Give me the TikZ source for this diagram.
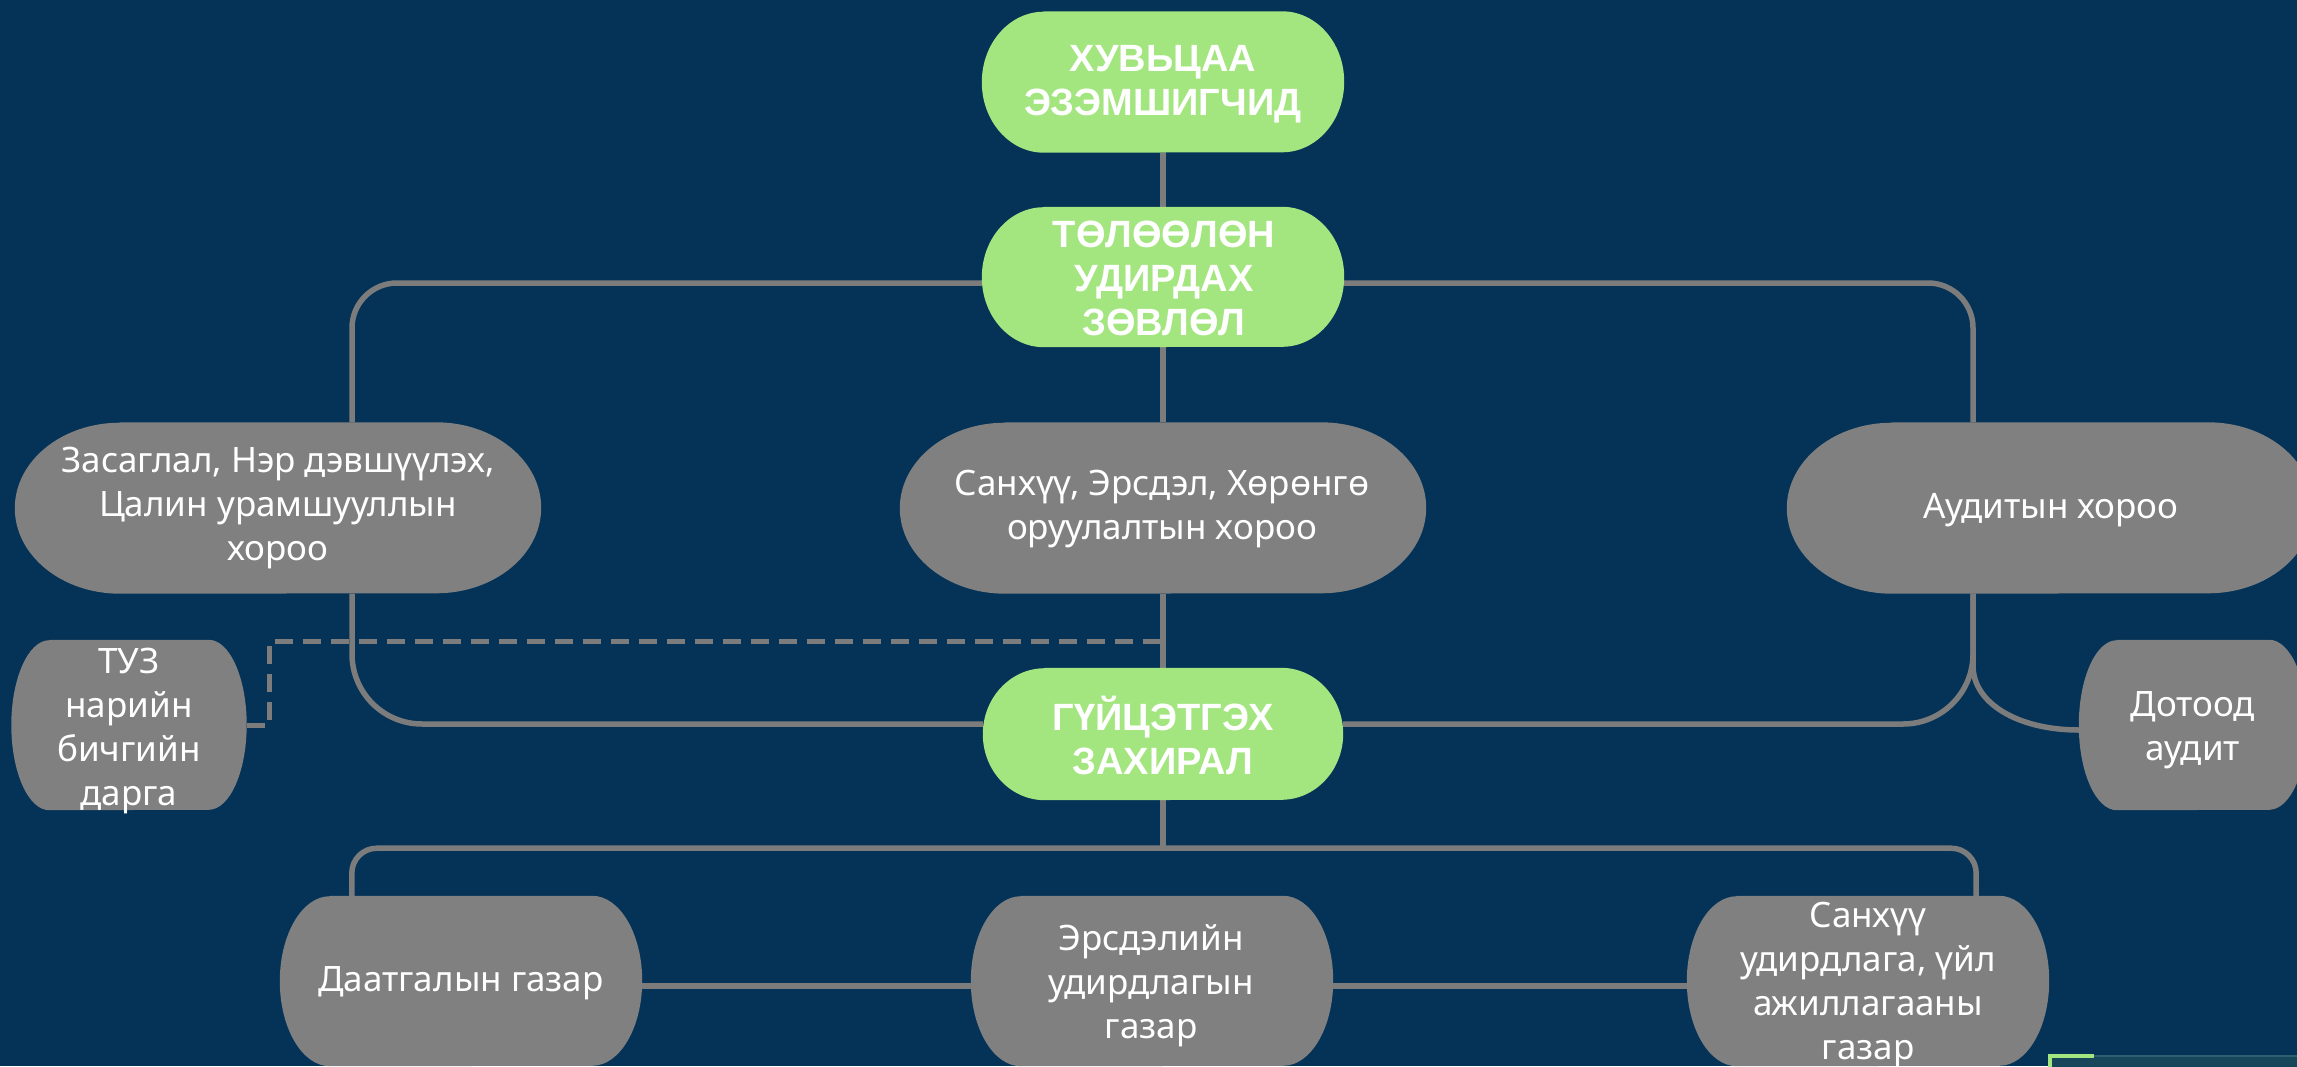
\documentclass[tikz,border=0pt]{standalone}
\usepackage{fontspec}
\setmainfont{Noto Sans}
\newfontfamily\boldfam{Liberation Sans}
\usetikzlibrary{calc}
\definecolor{bgnavy}{HTML}{043357}
\definecolor{pgreen}{HTML}{A3E57F}
\definecolor{pgray}{HTML}{808080}
\definecolor{lgray}{HTML}{7C7C7C}
\definecolor{tealbox}{HTML}{16465A}
\definecolor{tealline}{HTML}{2C6070}
\pgfdeclarelayer{bglayer}
\pgfdeclarelayer{lines}
\pgfdeclarelayer{fills}
\pgfsetlayers{bglayer,lines,fills,main}
\tikzset{
  shapebox/.style={rectangle, inner sep=0pt, draw=none},
  txt/.style={text=white, align=center, font=\fontsize{35}{44}\selectfont, inner sep=0pt},
  btxt/.style={text=white, align=center, font=\boldfam\bfseries\fontsize{38}{44}\selectfont, inner sep=0pt},
  conn/.style={draw=lgray, line width=5.5pt},
  dconn/.style={draw=lgray, line width=5pt, dash pattern=on 18pt off 10pt},
}
\newcommand\mkbox[7]{%
  \node[shapebox, minimum width=#4pt, minimum height=#5pt] (#1) at (#2,#3) {};
  \begin{pgfonlayer}{fills}
  \fill[#7] ([xshift=#6pt]#1.north west) -- ([xshift=-#6pt]#1.north east)
     arc[start angle=90, end angle=-90, x radius=#6pt, y radius=#5pt/2]
     -- ([xshift=#6pt]#1.south west)
     arc[start angle=270, end angle=90, x radius=#6pt, y radius=#5pt/2] -- cycle;
  \end{pgfonlayer}
}
\begin{document}
\begin{tikzpicture}[x=1pt,y=-1pt]
\useasboundingbox (0,0) rectangle (2297,1066);
\begin{pgfonlayer}{bglayer}
\fill[bgnavy] (0,0) rectangle (2297,1066);
\end{pgfonlayer}

% boxes
\mkbox{sh}{1163}{82}{362}{141}{62}{pgreen}
\mkbox{tol}{1163}{277}{362}{140}{62}{pgreen}
\mkbox{zas}{278}{508}{526}{171}{105}{pgray}
\mkbox{san}{1163}{508}{526}{171}{105}{pgray}
\mkbox{aud}{2050}{508}{526}{171}{105}{pgray}
\mkbox{gui}{1163}{734}{360}{132}{62}{pgreen}
\mkbox{tuz}{129}{725}{235}{170}{38}{pgray}
\mkbox{dot}{2193}{725}{228}{170}{38}{pgray}
\mkbox{daa}{461}{981}{362}{170}{50}{pgray}
\mkbox{ers}{1152}{981}{362}{170}{50}{pgray}
\mkbox{sah}{1868}{981}{362}{170}{50}{pgray}

% texts
\node[btxt] (sh-t) at (1163,84) {ХУВЬЦАА\\ЭЗЭМШИГЧИД};
\node[btxt] (tol-t) at (1164,278) {ТӨЛӨӨЛӨН\\УДИРДАХ\\ЗӨВЛӨЛ};
\node[txt] (zas-t) at (278,508) {Засаглал, Нэр дэвшүүлэх,\\Цалин урамшууллын\\хороо};
\node[txt] (san-t) at (1162,509) {Санхүү, Эрсдэл, Хөрөнгө\\оруулалтын хороо};
\node[txt] (aud-t) at (2051,510) {Аудитын хороо};
\node[btxt] (gui-t) at (1163,735) {ГҮЙЦЭТГЭХ\\ЗАХИРАЛ};
\node[txt] (tuz-t) at (129,731) {ТУЗ\\нарийн\\бичгийн\\дарга};
\node[txt] (dot-t) at (2193,730) {Дотоод\\аудит};
\node[txt] (daa-t) at (461,983) {Даатгалын газар};
\node[txt] (ers-t) at (1151,986) {Эрсдэлийн\\удирдлагын\\газар};
\node[txt] (sah-t) at (1868,985) {Санхүү\\удирдлага, үйл\\ажиллагааны\\газар};

% connectors
\begin{pgfonlayer}{lines}
\draw[conn] (sh.south) -- (tol.north);
\draw[conn] (tol.south) -- (san.north);
\draw[conn] (san.south) -- (gui.north);
\draw[conn, rounded corners=45pt] ([xshift=74pt]zas.north) |- ([yshift=-6pt]tol.west);
\draw[conn, rounded corners=45pt] ([xshift=-77pt]aud.north) |- ([yshift=-6pt]tol.east);
\draw[conn, rounded corners=70pt] ([xshift=74pt]zas.south) |- ([yshift=10pt]gui.west);
\draw[conn, rounded corners=70pt] ([xshift=-77pt]aud.south) |- ([yshift=10pt]gui.east);
\draw[conn] ([xshift=-77pt]aud.south) -- ++(0,72) .. controls +(0,38) and +(-60,0) .. ([yshift=-5pt]dot.west);
\draw[conn] (gui.south) -- ++(0,48) coordinate (busc);
\draw[conn, rounded corners=25pt] ([xshift=72pt]daa.north west) |- (busc) -| ([xshift=-73pt]sah.north east);
\draw[conn] ([yshift=-5pt]daa.east) -- ([yshift=-5pt]ers.west);
\draw[conn] ([yshift=-5pt]ers.east) -- ([yshift=-5pt]sah.west);
\coordinate (dj) at (1160,641);
\draw[dconn] (tuz.east) -- ++(23,0) |- (dj);
\end{pgfonlayer}

% partial element at bottom right
\fill[tealbox] (2050,1056) rectangle (2300,1070);
\draw[tealline, line width=1.5pt] (2094,1056) -- (2300,1056);
\draw[pgreen, line width=4pt] (2050,1070) -- (2050,1056) -- (2094,1056);
\end{tikzpicture}
\end{document}
